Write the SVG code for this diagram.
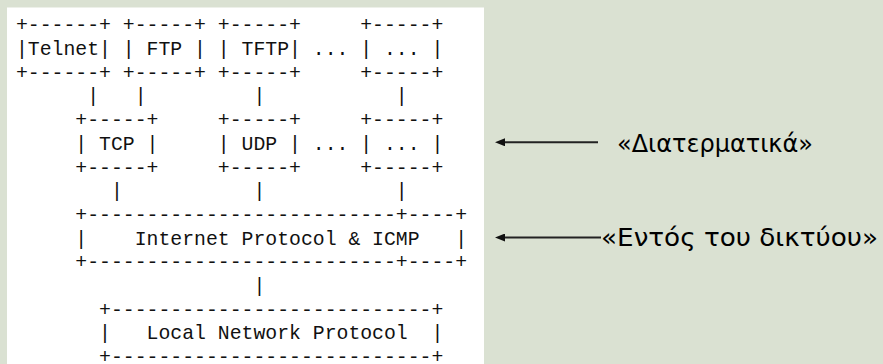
<svg xmlns="http://www.w3.org/2000/svg" width="883" height="364" viewBox="0 0 883 364">
  <defs>
    <style>
      .mono { font-family: "Liberation Mono", "Courier New", monospace; font-size: 19.8px; fill: #111; white-space: pre; }
      .label { font-family: "DejaVu Sans", "Noto Sans", sans-serif; font-size: 24.5px; fill: #000; }
      .arrow { stroke: #222; stroke-width: 2; fill: none; }
    </style>
    <marker id="head" viewBox="0 0 10 8" refX="0" refY="4" markerWidth="10" markerHeight="8" markerUnits="userSpaceOnUse" orient="auto">
      <path d="M0,0 L10,4 L0,8 Z" fill="#111"/>
    </marker>
  </defs>
  <rect id="background" x="0" y="0" width="883" height="364" fill="#dae1d2"/>
  <rect id="panel" x="7" y="7.5" width="477" height="357" fill="#ffffff"/>
  <g id="protocol-stack" class="mono">
    <text xml:space="preserve" x="16" y="31.3">+------+ +-----+ +-----+     +-----+</text>
    <text xml:space="preserve" x="16" y="55">|Telnet| | FTP | | TFTP| ... | ... |</text>
    <text xml:space="preserve" x="16" y="78.7">+------+ +-----+ +-----+     +-----+</text>
    <text xml:space="preserve" x="16" y="102.4">      |   |         |           |</text>
    <text xml:space="preserve" x="16" y="126.1">     +-----+     +-----+     +-----+</text>
    <text xml:space="preserve" x="16" y="149.8">     | TCP |     | UDP | ... | ... |</text>
    <text xml:space="preserve" x="16" y="173.5">     +-----+     +-----+     +-----+</text>
    <text xml:space="preserve" x="16" y="197.2">        |           |           |</text>
    <text xml:space="preserve" x="16" y="220.9">     +--------------------------+----+</text>
    <text xml:space="preserve" x="16" y="244.6">     |    Internet Protocol &amp; ICMP   |</text>
    <text xml:space="preserve" x="16" y="268.3">     +--------------------------+----+</text>
    <text xml:space="preserve" x="16" y="292">                    |</text>
    <text xml:space="preserve" x="16" y="315.7">       +---------------------------+</text>
    <text xml:space="preserve" x="16" y="339.4">       |   Local Network Protocol  |</text>
    <text xml:space="preserve" x="16" y="362.5">       +---------------------------+</text>
  </g>
  <g id="connectors">
    <line class="arrow" x1="598" y1="142.3" x2="505" y2="142.3" marker-end="url(#head)"/>
    <line class="arrow" x1="601" y1="237.5" x2="505" y2="237.5" marker-end="url(#head)"/>
  </g>
  <g id="label-transport">
    <text class="label" x="617" y="152" textLength="196" lengthAdjust="spacingAndGlyphs">«Διατερματικά»</text>
  </g>
  <g id="label-network">
    <text class="label" x="601" y="245.5" textLength="277" lengthAdjust="spacingAndGlyphs">«Εντός του δικτύου»</text>
  </g>
</svg>
